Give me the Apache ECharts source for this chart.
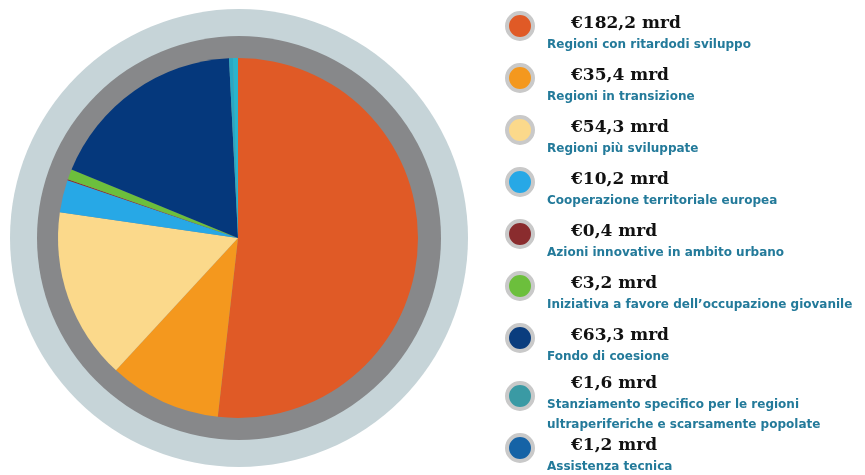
<meta charset="utf-8">
<script src="https://cdn.jsdelivr.net/npm/echarts/dist/echarts.min.js"></script>
<div id="main" style="position: absolute; left: 0; top: 0; width: 865px; height: 475px;"></div>

<script type="text/javascript">
// legend order
const names = [
  'Regioni con ritardodi sviluppo',
  'Regioni in transizione',
  'Regioni più sviluppate',
  'Cooperazione territoriale europea',
  'Azioni innovative in ambito urbano',
  'Iniziativa a favore dell’occupazione giovanile',
  'Fondo di coesione',
  'Stanziamento specifico per le regioni\nultraperiferiche e scarsamente popolate',
  'Assistenza tecnica'
]
const values = [182.2, 35.4, 54.3, 10.2, 0.4, 3.2, 63.3, 1.6, 1.2]
const legendColors = ['#e05a26', '#f4981e', '#fbd98b', '#27a8e6', '#8a2c2e', '#6cbf3c', '#0a3d7e', '#3a9aa4', '#1563a6']
// slices go clockwise in this order (indexes into the arrays above)
const pieOrder = [0, 1, 2, 3, 4, 5, 6, 8, 7]
const pieColors = ['#e05a26', '#f4981e', '#fbd98b', '#27a8e6', '#8a2c2e', '#6cbf3c', '#05387c', '#2ab4cc', '#28a8c4']

const fmt = v => '€' + v.toFixed(1).replace('.', ',') + ' mrd'

const legendBase = (idx, top) => ({
  orient: 'vertical',
  left: 505,
  top: top,
  height: 560,
  padding: 0,
  itemGap: 12,
  icon: 'circle',
  itemWidth: 34,
  itemHeight: 26,
  itemStyle: { borderColor: '#c9c9c9', borderWidth: 4 },
  data: idx.map(i => ({ name: names[i], itemStyle: { color: legendColors[i] } })),
  formatter: name => {
    const i = names.indexOf(name)
    return '{v|' + fmt(values[i]) + '}\n' + name.split('\n').map(s => '{l|' + s + '}').join('\n')
  },
  textStyle: {
    padding: [15, 0, 0, 0],
    rich: {
      v: { fontFamily: 'DejaVu Serif', fontWeight: 'bold', fontSize: 17, color: '#111', lineHeight: 23, padding: [0, 0, 0, 29] },
      l: { fontFamily: 'DejaVu Sans', fontWeight: 'bold', fontSize: 12, color: '#237a9a', lineHeight: 20, padding: [0, 0, 0, 5] }
    }
  }
})

let myChart = echarts.init(main)

myChart.setOption({
  backgroundColor: '#fff',
  animation: false,
  graphic: [
    { type: 'circle', shape: { cx: 239, cy: 238, r: 229 }, style: { fill: '#c6d4d8' }, z: -10 },
    { type: 'circle', shape: { cx: 239, cy: 238, r: 202 }, style: { fill: '#87888a' }, z: -9 }
  ],
  legend: [
    legendBase([0, 1, 2, 3, 4, 5, 6, 7], 11),
    legendBase([8], 433)
  ],
  series: [{
    type: 'pie',
    center: [238, 238],
    radius: 180,
    startAngle: 90,
    clockwise: true,
    label: { show: false },
    labelLine: { show: false },
    emphasis: { disabled: true },
    data: pieOrder.map(i => ({
      name: names[i],
      value: values[i],
      itemStyle: { color: pieColors[i] }
    }))
  }]
})
</script>
